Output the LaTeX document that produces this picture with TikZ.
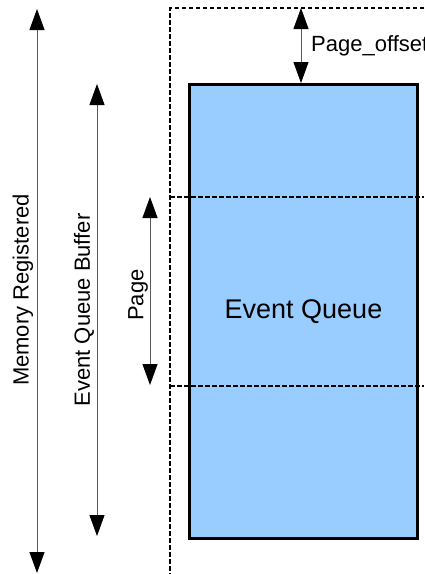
\documentclass[tikz,border=0pt]{standalone}
\usepackage{fontspec}
\setmainfont{Liberation Sans}
\usetikzlibrary{positioning}
\usetikzlibrary{arrows.meta}
\usepackage{xcolor}
\definecolor{queueblue}{HTML}{99CCFF}

\begin{document}
\begin{tikzpicture}[x=1pt,y=-1pt,
	    dim/.style={{Triangle[length=21pt,width=15pt,color=black]}-{Triangle[length=21pt,width=15pt,color=black]}, line width=0.9pt, draw=black!65},
	    cut/.style={dashed, dash pattern=on 4.5pt off 2.5pt, line width=1.1pt},
	    lbl/.style={font=\fontsize{22}{26}\selectfont, inner sep=0pt}]
	    \useasboundingbox (0,0) rectangle (424,574);
	    \node(queue) [draw, line width=3pt, fill=queueblue, minimum width=228pt, minimum height=454pt, anchor=north west, font=\fontsize{27}{32}\selectfont] at (188,83) {Event Queue};
	    % memory frame and page borders
	    \coordinate(frametop) at (170,8);
	    \draw[cut] (424,8) -- (frametop) -- (170,574);
	    \draw[cut] (170,197) -- (424,197);
	    \draw[cut] (170,386) -- (424,386);
	    % dimension arrows
	    \coordinate(memtop) at (37,9);
	    \coordinate(membot) at (37,573);
	    \coordinate(buftop) at (97,84);
	    \coordinate(bufbot) at (97,536);
	    \coordinate(pagetop) at (150,197);
	    \coordinate(pagebot) at (150,385);
	    \coordinate(offtop) at (301,8);
	    \coordinate(offbot) at (301,83);
	    \draw[dim] (memtop) -- (membot);
	    \draw[dim] (buftop) -- (bufbot);
	    \draw[dim] (pagetop) -- (pagebot);
	    \draw[dim] (offtop) -- (offbot);
	    \node(mem) [lbl, rotate=90] at (23,290) {Memory Registered};
	    \node(buf) [lbl, rotate=90] at (84,310) {Event Queue Buffer};
	    \node(page) [lbl, rotate=90] at (138,295) {Page};
	    \node(offset) [lbl, anchor=west] at (311,46) {Page\_offset};
	  \end{tikzpicture}
\end{document}
